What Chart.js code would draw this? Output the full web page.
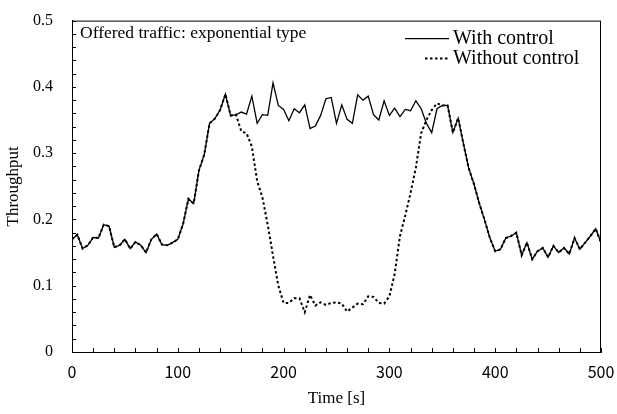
<!DOCTYPE html>
<html>
<head>
<meta charset="utf-8">
<script src="https://cdn.jsdelivr.net/npm/chart.js@4"></script>
<style>
  html, body { margin: 0; padding: 0; background: #fff; }
</style>
</head>
<body>
<canvas id="throughput" width="617" height="414"></canvas>
<script>
const times = [
	0, 5, 10, 15, 20, 25, 30, 35, 40, 45,
	50, 55, 60, 65, 70, 75, 80, 85, 90, 95,
	100, 105, 110, 115, 120, 125, 130, 135, 140, 145,
	150, 155, 160, 165, 170, 175, 180, 185, 190, 195,
	200, 205, 210, 215, 220, 225, 230, 235, 240, 245,
	250, 255, 260, 265, 270, 275, 280, 285, 290, 295,
	300, 305, 310, 315, 320, 325, 330, 335, 340, 345,
	350, 355, 360, 365, 370, 375, 380, 385, 390, 395,
	400, 405, 410, 415, 420, 425, 430, 435, 440, 445,
	450, 455, 460, 465, 470, 475, 480, 485, 490, 495,
	500
]

const withControl = [
	0.170, 0.177, 0.156, 0.161, 0.173, 0.172, 0.192, 0.190, 0.158, 0.161,
	0.170, 0.156, 0.166, 0.161, 0.150, 0.170, 0.178, 0.162, 0.161, 0.165,
	0.170, 0.193, 0.231, 0.224, 0.274, 0.298, 0.345, 0.352, 0.365, 0.389,
	0.356, 0.358, 0.362, 0.359, 0.386, 0.345, 0.358, 0.357, 0.406, 0.372,
	0.366, 0.349, 0.367, 0.361, 0.373, 0.337, 0.341, 0.357, 0.382, 0.384,
	0.345, 0.373, 0.351, 0.345, 0.388, 0.380, 0.386, 0.358, 0.350, 0.379,
	0.357, 0.368, 0.355, 0.366, 0.364, 0.379, 0.367, 0.345, 0.331, 0.367,
	0.372, 0.372, 0.331, 0.353, 0.314, 0.277, 0.253, 0.224, 0.199, 0.172,
	0.152, 0.155, 0.172, 0.175, 0.180, 0.146, 0.165, 0.140, 0.152, 0.157,
	0.143, 0.160, 0.150, 0.157, 0.148, 0.172, 0.155, 0.165, 0.175, 0.186,
	0.165
]

const withoutControl = [
	0.170, 0.177, 0.156, 0.161, 0.173, 0.172, 0.192, 0.190, 0.158, 0.161,
	0.170, 0.156, 0.166, 0.161, 0.150, 0.170, 0.178, 0.162, 0.161, 0.165,
	0.170, 0.193, 0.231, 0.224, 0.274, 0.298, 0.345, 0.352, 0.365, 0.389,
	0.357, 0.358, 0.333, 0.330, 0.310, 0.258, 0.233, 0.192, 0.145, 0.100,
	0.074, 0.074, 0.081, 0.081, 0.060, 0.086, 0.070, 0.075, 0.071, 0.074,
	0.075, 0.073, 0.061, 0.067, 0.073, 0.072, 0.084, 0.083, 0.074, 0.073,
	0.084, 0.118, 0.175, 0.206, 0.240, 0.278, 0.330, 0.350, 0.365, 0.375,
	0.372, 0.372, 0.331, 0.353, 0.314, 0.277, 0.253, 0.224, 0.199, 0.172,
	0.152, 0.155, 0.172, 0.175, 0.180, 0.146, 0.165, 0.140, 0.152, 0.157,
	0.143, 0.160, 0.150, 0.157, 0.148, 0.172, 0.155, 0.165, 0.175, 0.186,
	0.165
]

const xTickLabels = [0, 100, 200, 300, 400, 500],
	yTickLabels = ['0', '0.1', '0.2', '0.3', '0.4', '0.5'],
	panelNote = 'Offered traffic: exponential type'

const serif = '"Liberation Serif", "Times New Roman", serif',
	gothic = '"Noto Sans CJK JP", "DejaVu Sans", sans-serif'

const toPoints = (values) => times.map((t, i) => ({ x: t, y: values[i] }))

// box around the plot, inward tick marks, the note and the legend
const framePlugin = {
	id: 'frame',
	afterDraw(chart) {
		const { ctx, chartArea: a, scales } = chart,
			x = scales.x,
			y = scales.y
		ctx.save()
		ctx.strokeStyle = '#000'
		ctx.lineWidth = 1
		ctx.strokeRect(a.left + 0.5, a.top + 0.5, a.right - a.left - 1, a.bottom - a.top)

		ctx.beginPath()
		for (let t = 0; t <= 500; t += 20) {
			const px = Math.round(x.getPixelForValue(t)) + 0.5
			ctx.moveTo(px, a.bottom)
			ctx.lineTo(px, a.bottom - 4)
		}
		for (let v = 0; v <= 50; v += 2) {
			const py = Math.round(y.getPixelForValue(v / 100)) + 0.5
			ctx.moveTo(a.left, py)
			ctx.lineTo(a.left + 4, py)
		}
		ctx.stroke()

		ctx.fillStyle = '#000'
		ctx.textBaseline = 'middle'
		ctx.font = `17.5px ${serif}`
		ctx.fillText(panelNote, a.left + 8, a.top + 13)

		// legend: dotted sample is drawn shorter than the solid one
		chart.data.datasets.forEach((ds, i) => {
			const ly = a.top + 18 + i * 20,
				lx = 405,
				start = ds.borderDash ? lx + 20 : lx
			ctx.beginPath()
			ctx.lineWidth = ds.borderWidth
			ctx.setLineDash(ds.borderDash || [])
			ctx.moveTo(start, ly)
			ctx.lineTo(lx + 44, ly)
			ctx.stroke()
			ctx.setLineDash([])
			ctx.font = `20px ${serif}`
			ctx.fillText(ds.label, lx + 48, ly)
		})
		ctx.restore()
	},
}

new Chart(document.getElementById('throughput'), {
	type: 'line',
	data: {
		datasets: [
			{
				label: 'With control',
				data: toPoints(withControl),
				borderColor: '#000',
				borderWidth: 1.3,
				pointRadius: 0,
				tension: 0,
			},
			{
				label: 'Without control',
				data: toPoints(withoutControl),
				borderColor: '#000',
				borderWidth: 2,
				borderDash: [2.5, 2.5],
				pointRadius: 0,
				tension: 0,
			},
		],
	},
	options: {
		responsive: false,
		animation: false,
		devicePixelRatio: 1,
		layout: { padding: { top: 13, right: 16, left: 0, bottom: 0 } },
		plugins: { legend: { display: false }, tooltip: { enabled: false } },
		scales: {
			x: {
				type: 'linear',
				min: 0,
				max: 500,
				afterBuildTicks: (s) => { s.ticks = xTickLabels.map((v) => ({ value: v })) },
				afterFit: (s) => { s.height = 62 },
				grid: { display: false },
				border: { display: true, color: '#000', width: 1 },
				ticks: { color: '#000', font: { family: gothic, size: 16 }, padding: 2, maxRotation: 0 },
				title: { display: true, text: 'Time [s]', color: '#000', font: { family: serif, size: 17 }, padding: { top: 0, bottom: 5 } },
			},
			y: {
				min: 0,
				max: 0.5,
				afterBuildTicks: (s) => { s.ticks = yTickLabels.map((v) => ({ value: Number(v) })) },
				afterFit: (s) => { s.width = 72 },
				grid: { display: false },
				border: { display: true, color: '#000', width: 1 },
				ticks: {
					color: '#000',
					font: { family: serif, size: 16 },
					padding: 11,
					callback: (v) => yTickLabels[Math.round(v * 10)],
				},
				title: { display: true, text: 'Throughput', color: '#000', font: { family: serif, size: 17 }, padding: { top: 3, bottom: 0 } },
			},
		},
	},
	plugins: [framePlugin],
})
</script>
</body>
</html>
